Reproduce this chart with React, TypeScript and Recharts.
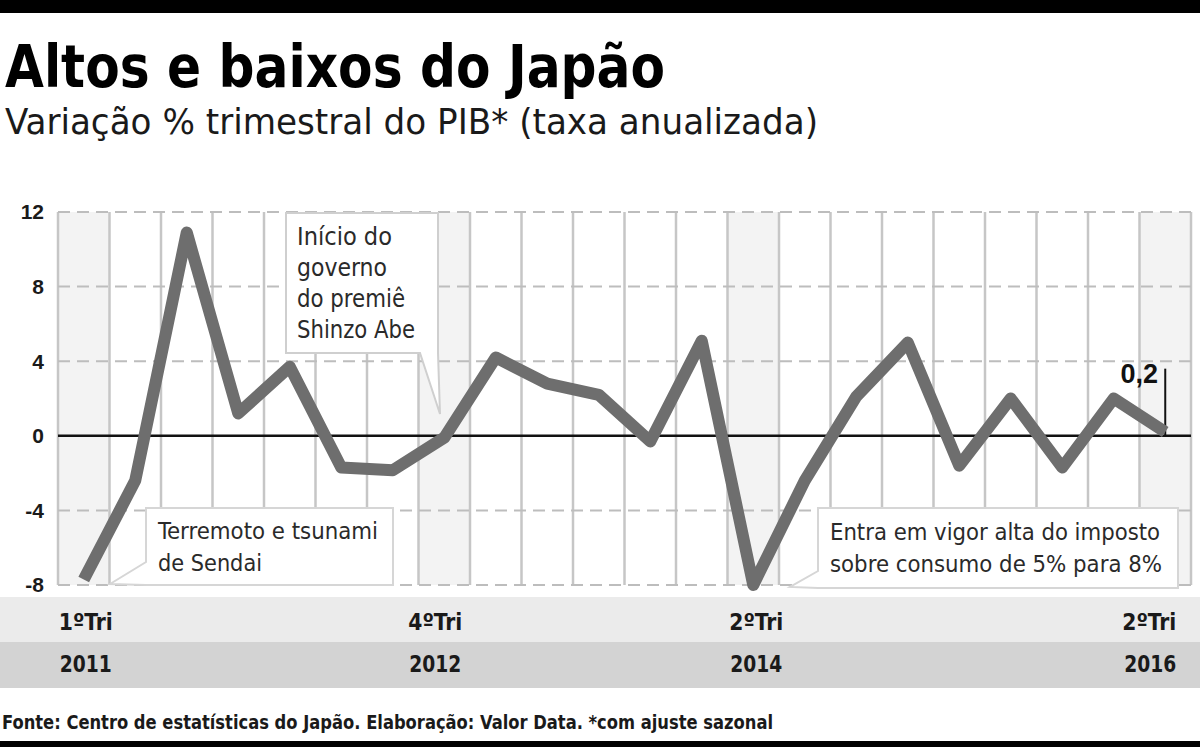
import React from 'react';
import { ComposedChart, Line, XAxis, YAxis, ReferenceLine, ReferenceArea } from 'recharts';

// quarterly GDP change, annualized (%), 1Q2011 .. 2Q2016
const quarters = [
  '1ºTri 2011', '2ºTri 2011', '3ºTri 2011', '4ºTri 2011',
  '1ºTri 2012', '2ºTri 2012', '3ºTri 2012', '4ºTri 2012',
  '1ºTri 2013', '2ºTri 2013', '3ºTri 2013', '4ºTri 2013',
  '1ºTri 2014', '2ºTri 2014', '3ºTri 2014', '4ºTri 2014',
  '1ºTri 2015', '2ºTri 2015', '3ºTri 2015', '4ºTri 2015',
  '1ºTri 2016', '2ºTri 2016',
];
const gdpChange = [
  -7.7, -2.4, 10.9, 1.2,
  3.7, -1.7, -1.85, -0.1,
  4.2, 2.8, 2.2, -0.3,
  5.1, -8.0, -2.4, 2.1,
  5.0, -1.6, 2.0, -1.7,
  2.0, 0.2,
];
const highlighted = ['1ºTri 2011', '4ºTri 2012', '2ºTri 2014', '2ºTri 2016'];
const tickQuarterLabels = ['1ºTri', '4ºTri', '2ºTri', '2ºTri'];
const tickYearLabels = ['2011', '2012', '2014', '2016'];
const yTicks = [-8, -4, 0, 4, 8, 12];
const lastValueLabel = '0,2';

const data = quarters.map((q, i) => ({ i, q, v: gdpChange[i] }));
const highlightIdx = highlighted.map((q) => quarters.indexOf(q));

const NARROW = '"Liberation Sans Narrow", "DejaVu Sans Condensed", Roboto, sans-serif';
const BOLD = '"DejaVu Sans Condensed", "DejaVu Sans", sans-serif';

const tickShift = [2, -9, 3, 0];

function QuarterTick(props: any) {
  const { x, y, payload } = props;
  const k = highlightIdx.indexOf(payload.value);
  if (k < 0) return null;
  const last = k === highlightIdx.length - 1;
  const anchor = last ? 'end' : 'middle';
  const tx = last ? x + 11 : x + tickShift[k];
  return (
    <g>
      <text x={tx} y={y + 45} textAnchor={anchor} fontFamily={NARROW} fontWeight={700} fontSize={23}
        fill="#1a1a1a" textLength={54} lengthAdjust="spacingAndGlyphs">{tickQuarterLabels[k]}</text>
      <text x={tx} y={y + 87} textAnchor={anchor} fontFamily={NARROW} fontWeight={700} fontSize={23}
        fill="#1a1a1a" textLength={52} lengthAdjust="spacingAndGlyphs">{tickYearLabels[k]}</text>
    </g>
  );
}

export default function App() {
  const boundaries = [...quarters.map((_, i) => i - 0.5), quarters.length - 0.5];
  const annText = { fontFamily: NARROW, fontSize: 24, fill: '#2a2a2a', lengthAdjust: 'spacingAndGlyphs' as const };

  return (
    <div style={{ position: 'absolute', left: 0, top: 0, width: 1200, height: 747, background: '#fff', overflow: 'hidden' }}>
      {/* background bands */}
      <div style={{ position: 'absolute', left: 0, top: 0, width: 1200, height: 13, background: '#000' }} />
      <div style={{ position: 'absolute', left: 0, top: 597, width: 1200, height: 45, background: '#ebebeb' }} />
      <div style={{ position: 'absolute', left: 0, top: 642, width: 1200, height: 46, background: '#d3d3d3' }} />
      <div style={{ position: 'absolute', left: 0, top: 741, width: 1200, height: 6, background: '#000' }} />

      <div style={{ position: 'absolute', left: 0, top: 0 }}>
        <ComposedChart width={1200} height={747} data={data} margin={{ top: 212, right: 9, bottom: 62, left: 0 }}>
          <XAxis dataKey="i" type="number" domain={[-0.5, quarters.length - 0.5]} ticks={highlightIdx}
            axisLine={false} tickLine={false} tickSize={0} tickMargin={0} height={100} interval={0}
            tick={<QuarterTick />} />
          <YAxis type="number" domain={[-8, 12]} ticks={yTicks} width={58} axisLine={false} tickLine={false}
            tickMargin={8} tick={{ fontFamily: '"Liberation Sans", Arial, sans-serif', fontWeight: 700, fontSize: 21, fill: '#1a1a1a' }} />

          {highlightIdx.map((i) => (
            <ReferenceArea key={`hl-${i}`} x1={i - 0.5} x2={i + 0.5} y1={-8} y2={12}
              fill="#f3f3f3" fillOpacity={1} stroke="none" />
          ))}
          {boundaries.map((b) => (
            <ReferenceLine key={`vx-${b}`} x={b} stroke="#c6c6c6" strokeWidth={2.5} />
          ))}
          {yTicks.filter((t) => t !== 0).map((t) => (
            <ReferenceLine key={`hy-${t}`} y={t} stroke="#bdbdbd" strokeWidth={2} strokeDasharray="12 7" />
          ))}
          <ReferenceLine y={0} stroke="#111" strokeWidth={2.5} />
          <ReferenceLine segment={[{ x: quarters.length - 1, y: 0 }, { x: quarters.length - 1, y: 3.6 }]}
            stroke="#111" strokeWidth={2} />

          <Line type="linear" dataKey="v" stroke="#6e6e6e" strokeWidth={12} strokeLinejoin="round"
            dot={false} activeDot={false} isAnimationActive={false} />
        </ComposedChart>
      </div>

      {/* titles, notes, source */}
      <svg width={1200} height={747} style={{ position: 'absolute', left: 0, top: 0, pointerEvents: 'none' }}>
        <text x={5} y={87} fontFamily={BOLD} fontWeight={700} fontSize={58} fill="#000"
          textLength={660} lengthAdjust="spacingAndGlyphs">Altos e baixos do Japão</text>
        <text x={5} y={134} fontFamily={NARROW} fontWeight={400} fontSize={35} fill="#1a1a1a"
          textLength={813} lengthAdjust="spacingAndGlyphs">Variação % trimestral do PIB* (taxa anualizada)</text>

        {/* Abe */}
        <polygon points="286,213 438,213 438,353 440,414 420,353 286,353" fill="#fff" stroke="#cfcfcf" strokeWidth={2} />
        <text x={297} y={245} {...annText} textLength={95}>Início do</text>
        <text x={297} y={276} {...annText} textLength={90}>governo</text>
        <text x={297} y={307} {...annText} textLength={108}>do premiê</text>
        <text x={297} y={338} {...annText} textLength={118}>Shinzo Abe</text>

        {/* Sendai */}
        <polygon points="146,508 393,508 393,585 146,585 110,584 146,562" fill="#fff" stroke="#d6d6d6" strokeWidth={2} />
        <text x={158} y={539} {...annText} fontSize={23} textLength={220}>Terremoto e tsunami</text>
        <text x={158} y={571} {...annText} fontSize={23} textLength={104}>de Sendai</text>

        {/* imposto */}
        <polygon points="818,508 1178,508 1178,588 818,588 790,587 818,571" fill="#fff" stroke="#d6d6d6" strokeWidth={2} />
        <text x={830} y={540} {...annText} fontSize={23} textLength={330}>Entra em vigor alta do imposto</text>
        <text x={830} y={572} {...annText} fontSize={23} textLength={332}>sobre consumo de 5% para 8%</text>

        <text x={1158} y={383} textAnchor="end" fontFamily='"Liberation Sans", Arial, sans-serif' fontWeight={700}
          fontSize={27} fill="#111">{lastValueLabel}</text>

        <text x={2} y={729} fontFamily={NARROW} fontWeight={700} fontSize={19} fill="#1a1a1a"
          textLength={771} lengthAdjust="spacingAndGlyphs">Fonte: Centro de estatísticas do Japão. Elaboração: Valor Data. *com ajuste sazonal</text>
      </svg>
    </div>
  );
}
